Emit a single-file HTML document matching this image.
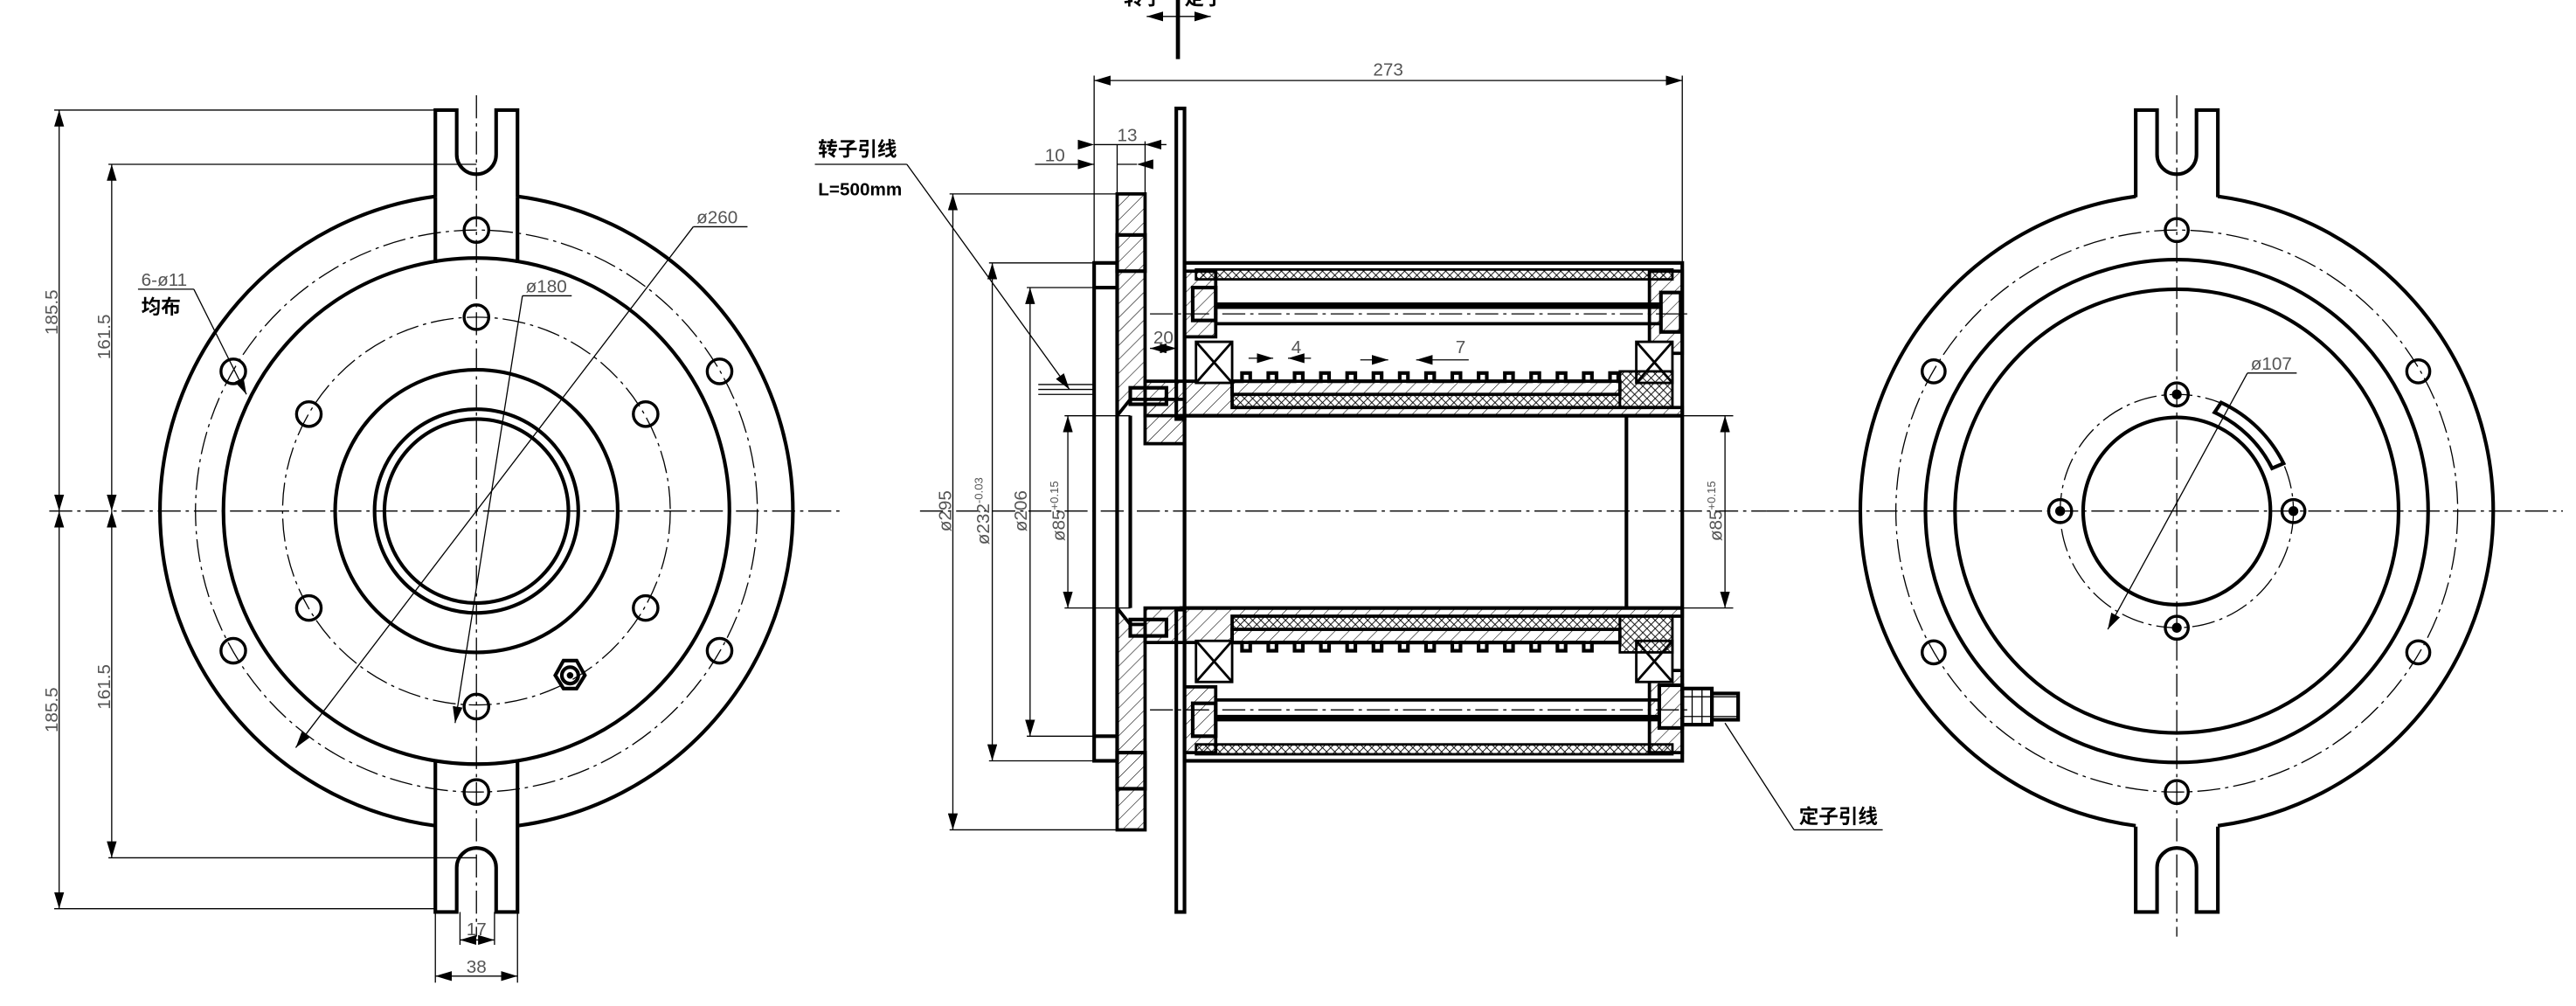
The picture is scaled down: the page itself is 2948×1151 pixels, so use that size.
<!DOCTYPE html>
<html><head><meta charset="utf-8"><style>
html,body{margin:0;padding:0;background:#fff;}
svg{display:block}
text{font-family:"Liberation Sans","Noto Sans CJK SC",sans-serif;fill:#000}
.k{fill:none;stroke:#000;stroke-width:2.2}
.t{fill:none;stroke:#000;stroke-width:0.7}
.c{fill:none;stroke:#000;stroke-width:0.7;stroke-dasharray:14 3 2 3}
.h{fill:url(#hat);stroke:#000;stroke-width:2}
.x{fill:url(#xh);stroke:#000;stroke-width:1.5}
.dim{font-size:11px;fill:#555}
</style></head><body>
<svg width="2948" height="1151" viewBox="0 0 1568 612.2" preserveAspectRatio="none" xmlns="http://www.w3.org/2000/svg">
<defs>
<pattern id="hat" width="6" height="6" patternUnits="userSpaceOnUse" patternTransform="rotate(45)"><line x1="0" y1="0" x2="0" y2="6" stroke="#000" stroke-width="0.6"/></pattern>
<pattern id="xh" width="5" height="5" patternUnits="userSpaceOnUse"><path d="M0 0L5 5M5 0L0 5" stroke="#000" stroke-width="0.5"/></pattern>
<marker id="a" markerWidth="10" markerHeight="6" refX="10" refY="3" orient="auto" markerUnits="userSpaceOnUse"><path d="M0 0L10 3L0 6z"/></marker>
<marker id="b" markerWidth="10" markerHeight="6" refX="0" refY="3" orient="auto" markerUnits="userSpaceOnUse"><path d="M10 0L0 3L10 6z"/></marker>
</defs>
<rect width="1568" height="612.2" fill="#fff"/>

<!-- LEFT VIEW -->
<g>
<path class="k" d="M265 119.5 A193.2 193.2 0 0 0 265 502.5" />
<path class="k" d="M315 119.5 A193.2 193.2 0 0 1 315 502.5" />
<path class="k" d="M265 120 V67 H278 V94 A12 12 0 0 0 302 94 V67 H315 V120"/>
<path class="k" d="M265 160 V120 M315 160 V120"/>
<path class="k" d="M265 462 V555 H278 V528 A12 12 0 0 1 302 528 V555 H315 V462"/>
<circle class="k" cx="290" cy="311" r="154"/>
<circle class="k" cx="290" cy="311" r="86"/>
<circle class="k" cx="290" cy="311" r="62"/>
<circle class="k" cx="290" cy="311" r="56"/>
<circle class="c" cx="290" cy="311" r="171"/>
<circle class="c" cx="290" cy="311" r="118"/>
<g class="k" style="stroke-width:1.8">
<circle cx="290" cy="140" r="7.5"/><circle cx="142" cy="226" r="7.5"/><circle cx="438" cy="226" r="7.5"/>
<circle cx="142" cy="396" r="7.5"/><circle cx="438" cy="396" r="7.5"/><circle cx="290" cy="482" r="7.5"/>
<circle cx="290" cy="193" r="7.5"/><circle cx="188" cy="252" r="7.5"/><circle cx="393" cy="252" r="7.5"/>
<circle cx="188" cy="370" r="7.5"/><circle cx="393" cy="370" r="7.5"/><circle cx="290" cy="430" r="7.5"/>
</g>
<polygon class="k" points="343,402 351,402 356,411 351,419 343,419 338,411"/>
<circle class="k" cx="347" cy="411" r="5"/><circle cx="347" cy="411" r="2" fill="#000"/>
<line class="c" x1="30" y1="311" x2="512" y2="311"/>
<line class="c" x1="290" y1="58" x2="290" y2="570"/>
<line class="t" x1="33" y1="67" x2="265" y2="67"/><line class="t" x1="33" y1="553" x2="265" y2="553"/>
<line class="t" x1="66" y1="100" x2="290" y2="100"/><line class="t" x1="66" y1="522" x2="290" y2="522"/>
<line class="t" x1="36" y1="67" x2="36" y2="311" marker-start="url(#b)" marker-end="url(#a)"/>
<line class="t" x1="36" y1="311" x2="36" y2="553" marker-start="url(#b)" marker-end="url(#a)"/>
<line class="t" x1="68" y1="100" x2="68" y2="311" marker-start="url(#b)" marker-end="url(#a)"/>
<line class="t" x1="68" y1="311" x2="68" y2="522" marker-start="url(#b)" marker-end="url(#a)"/>
<text class="dim" transform="translate(35,190) rotate(-90)" text-anchor="middle">185.5</text>
<text class="dim" transform="translate(35,432) rotate(-90)" text-anchor="middle">185.5</text>
<text class="dim" transform="translate(67,205) rotate(-90)" text-anchor="middle">161.5</text>
<text class="dim" transform="translate(67,418) rotate(-90)" text-anchor="middle">161.5</text>
<line class="t" x1="265" y1="555" x2="265" y2="598"/><line class="t" x1="315" y1="555" x2="315" y2="598"/>
<line class="t" x1="280" y1="555" x2="280" y2="575"/><line class="t" x1="301" y1="555" x2="301" y2="575"/>
<line class="t" x1="280" y1="572" x2="301" y2="572" marker-start="url(#b)" marker-end="url(#a)"/>
<line class="t" x1="265" y1="594" x2="315" y2="594" marker-start="url(#b)" marker-end="url(#a)"/>
<text class="dim" x="290" y="569" text-anchor="middle">17</text>
<text class="dim" x="290" y="592" text-anchor="middle">38</text>
<line class="t" x1="84" y1="176" x2="118" y2="176"/><line class="t" x1="118" y1="176" x2="150" y2="240" marker-end="url(#a)"/>
<text class="dim" x="86" y="174">6-ø11</text>
<text x="86" y="191" font-size="12" font-weight="bold">均布</text>
<line class="t" x1="422" y1="138" x2="455" y2="138"/><line class="t" x1="422" y1="138" x2="180" y2="455" marker-end="url(#a)"/>
<text class="dim" x="424" y="136">ø260</text>
<line class="t" x1="318" y1="180" x2="348" y2="180"/><line class="t" x1="318" y1="180" x2="277" y2="440" marker-end="url(#a)"/>
<text class="dim" x="320" y="178">ø180</text>
</g>

<!-- MIDDLE SECTION -->
<g>
<line x1="717" y1="0" x2="717" y2="36" stroke="#000" stroke-width="2.5"/>
<line class="t" x1="698" y1="10" x2="737" y2="10" marker-start="url(#b)" marker-end="url(#a)"/>
<text x="684" y="3" font-size="12" font-weight="bold">转子</text><text x="721" y="3" font-size="12" font-weight="bold">定子</text>
<line class="t" x1="666" y1="46" x2="666" y2="160"/><line class="t" x1="1024" y1="46" x2="1024" y2="160"/>
<line class="t" x1="666" y1="49" x2="1024" y2="49" marker-start="url(#b)" marker-end="url(#a)"/>
<text class="dim" x="845" y="46" text-anchor="middle">273</text>
<line class="t" x1="630" y1="100" x2="666" y2="100" marker-end="url(#a)"/><line class="t" x1="680" y1="100" x2="692" y2="100" marker-end="url(#b)"/>
<line class="t" x1="666" y1="88" x2="697" y2="88" marker-end="url(#b)" marker-start="url(#a)"/>
<line class="t" x1="680" y1="88" x2="680" y2="118"/><line class="t" x1="697" y1="86" x2="697" y2="118"/>
<line class="t" x1="697" y1="88" x2="710" y2="88"/>
<text class="dim" x="636" y="98">10</text><text class="dim" x="680" y="86">13</text>
<path class="h" d="M680 118 H697 V243 L688 243 L680 253 Z"/>
<rect class="k" x="680" y="143" width="17" height="22" fill="#fff"/>
<path class="h" d="M680 505 H697 V380 L688 380 L680 370 Z"/>
<rect class="k" x="680" y="458" width="17" height="22" fill="#fff"/>
<rect class="k" x="666" y="160" width="14" height="303" fill="#fff"/>
<line class="k" x1="666" y1="175" x2="680" y2="175"/><line class="k" x1="666" y1="448" x2="680" y2="448"/>
<line class="k" x1="688" y1="253" x2="688" y2="370"/>
<line class="k" x1="680" y1="253" x2="680" y2="370"/>
<rect class="k" x="716" y="66" width="5" height="189" fill="#fff"/>
<rect class="k" x="716" y="371" width="5" height="184" fill="#fff"/>
<path class="h" d="M697 243 H721 V270 H697 Z"/>
<path class="h" d="M697 253 H1024 V248 H750 V232 H697 Z"/>
<path class="h" d="M697 370 H1024 V375 H750 V391 H697 Z"/>
<rect x="688" y="236" width="22" height="10" class="k" fill="#fff"/>
<rect x="688" y="377" width="22" height="10" class="k" fill="#fff"/>
<rect class="k" x="721" y="160" width="303" height="303" fill="none"/>
<rect class="x" x="728" y="164" width="290" height="6"/>
<rect class="x" x="728" y="453" width="290" height="6"/>
<path class="h" d="M721 165 H740 V205 H721 Z"/><path class="h" d="M1004 165 H1024 V215 H1004 Z"/>
<path class="h" d="M721 418 H740 V458 H721 Z"/><path class="h" d="M1004 408 H1024 V458 H1004 Z"/>
<rect class="k" x="726" y="175" width="14" height="20" fill="#fff"/><rect class="k" x="1011" y="178" width="12" height="24" fill="#fff"/>
<rect class="k" x="726" y="428" width="14" height="20" fill="#fff"/>
<line x1="740" y1="186" x2="1010" y2="186" stroke="#000" stroke-width="4"/>
<line x1="740" y1="197" x2="1010" y2="197" stroke="#000" stroke-width="2"/>
<line class="c" x1="700" y1="191" x2="1030" y2="191"/>
<line x1="740" y1="437" x2="1010" y2="437" stroke="#000" stroke-width="4"/>
<line x1="740" y1="426" x2="1010" y2="426" stroke="#000" stroke-width="2"/>
<line class="c" x1="700" y1="432" x2="1030" y2="432"/>
<g class="k" style="stroke-width:1.5"><rect x="728" y="208" width="22" height="25" fill="#fff"/><path d="M728 208 L750 233 M750 208 L728 233"/>
<rect x="996" y="208" width="22" height="25" fill="#fff"/><path d="M996 208 L1018 233 M1018 208 L996 233"/>
<rect x="728" y="390" width="22" height="25" fill="#fff"/><path d="M728 390 L750 415 M750 390 L728 415"/>
<rect x="996" y="390" width="22" height="25" fill="#fff"/><path d="M996 390 L1018 415 M1018 390 L996 415"/></g>
<rect class="h" x="750" y="232" width="236" height="8"/>
<rect class="x" x="750" y="240" width="236" height="8"/>
<rect class="x" x="986" y="226" width="32" height="22"/>
<path class="k" d="M750 232 h6 v-5 h5 v5 h11 v-5 h5 v5 h11 v-5 h5 v5 h11 v-5 h5 v5 h11 v-5 h5 v5 h11 v-5 h5 v5 h11 v-5 h5 v5 h11 v-5 h5 v5 h11 v-5 h5 v5 h11 v-5 h5 v5 h11 v-5 h5 v5 h11 v-5 h5 v5 h11 v-5 h5 v5 h11 v-5 h5 v5 h11 v-5 h5 v5 H986"/>
<rect class="h" x="750" y="383" width="236" height="8"/>
<rect class="x" x="750" y="375" width="236" height="8"/>
<rect class="x" x="986" y="375" width="32" height="22"/>
<path class="k" d="M750 391 h6 v5 h5 v-5 h11 v5 h5 v-5 h11 v5 h5 v-5 h11 v5 h5 v-5 h11 v5 h5 v-5 h11 v5 h5 v-5 h11 v5 h5 v-5 h11 v5 h5 v-5 h11 v5 h5 v-5 h11 v5 h5 v-5 h11 v5 h5 v-5 h11 v5 h5 v-5 h11 v5 h5 v-5 h11 v5 h5 v-5 H986"/>
<path class="k" d="M718 253 H1024 M718 370 H1024 M990 253 V370 M721 253 V370"/>
<line class="c" x1="560" y1="311" x2="1075" y2="311"/>
<line class="t" x1="700" y1="212" x2="716" y2="212" marker-start="url(#b)" marker-end="url(#a)"/><text class="dim" x="702" y="209">20</text>
<line class="t" x1="760" y1="218" x2="775" y2="218" marker-end="url(#a)"/><line class="t" x1="784" y1="218" x2="798" y2="218" marker-start="url(#b)"/><text class="dim" x="786" y="215">4</text>
<line class="t" x1="828" y1="219" x2="845" y2="219" marker-end="url(#a)"/><line class="t" x1="862" y1="219" x2="894" y2="219" marker-start="url(#b)"/><text class="dim" x="886" y="215">7</text>
<g class="t">
<line x1="578" y1="118" x2="680" y2="118"/><line x1="578" y1="505" x2="680" y2="505"/>
<line x1="602" y1="160" x2="666" y2="160"/><line x1="602" y1="463" x2="666" y2="463"/>
<line x1="625" y1="175" x2="666" y2="175"/><line x1="625" y1="448" x2="666" y2="448"/>
<line x1="648" y1="253" x2="688" y2="253"/><line x1="648" y1="370" x2="688" y2="370"/>
<line x1="1024" y1="253" x2="1055" y2="253"/><line x1="1024" y1="370" x2="1055" y2="370"/>
</g>
<line class="t" x1="580" y1="118" x2="580" y2="505" marker-start="url(#b)" marker-end="url(#a)"/>
<line class="t" x1="604" y1="160" x2="604" y2="463" marker-start="url(#b)" marker-end="url(#a)"/>
<line class="t" x1="627" y1="175" x2="627" y2="448" marker-start="url(#b)" marker-end="url(#a)"/>
<line class="t" x1="650" y1="253" x2="650" y2="370" marker-start="url(#b)" marker-end="url(#a)"/>
<line class="t" x1="1050" y1="253" x2="1050" y2="370" marker-start="url(#b)" marker-end="url(#a)"/>
<text class="dim" transform="translate(579,311) rotate(-90)" text-anchor="middle">ø295</text>
<text class="dim" transform="translate(602,311) rotate(-90)" text-anchor="middle">ø232<tspan font-size="7" dy="-4">-0.03</tspan></text>
<text class="dim" transform="translate(625,311) rotate(-90)" text-anchor="middle">ø206</text>
<text class="dim" transform="translate(648,311) rotate(-90)" text-anchor="middle">ø85<tspan font-size="7" dy="-4">+0.15</tspan></text>
<text class="dim" transform="translate(1048,311) rotate(-90)" text-anchor="middle">ø85<tspan font-size="7" dy="-4">+0.15</tspan></text>
<text x="498" y="95" font-size="12" font-weight="bold">转子引线</text>
<line class="t" x1="496" y1="100" x2="552" y2="100"/>
<text x="498" y="119" font-size="11" font-weight="bold">L=500mm</text>
<line class="t" x1="552" y1="100" x2="651" y2="237" marker-end="url(#a)"/>
<g class="t"><line x1="632" y1="234" x2="666" y2="234"/><line x1="632" y1="237" x2="666" y2="237"/><line x1="632" y1="240" x2="666" y2="240"/></g>
<rect class="k" x="1010" y="417" width="14" height="26" fill="#fff"/>
<rect class="k" x="1024" y="419" width="18" height="22" fill="#fff"/>
<rect class="k" x="1042" y="422" width="16" height="16" fill="#fff"/>
<path class="t" d="M1024 424 H1058 M1024 436 H1058 M1030 419 V441 M1036 419 V441"/>
<line class="t" x1="1050" y1="440" x2="1092" y2="505"/><line class="t" x1="1092" y1="505" x2="1146" y2="505"/>
<text x="1095" y="501" font-size="12" font-weight="bold">定子引线</text>
</g>

<!-- RIGHT VIEW -->
<g>
<path class="k" d="M1300 119.5 A193.2 193.2 0 0 0 1300 502.5"/>
<path class="k" d="M1350 119.5 A193.2 193.2 0 0 1 1350 502.5"/>
<path class="k" d="M1300 120 V67 H1313 V94 A12 12 0 0 0 1337 94 V67 H1350 V120"/>
<path class="k" d="M1300 503 V555 H1313 V528 A12 12 0 0 1 1337 528 V555 H1350 V503"/>
<circle class="k" cx="1325" cy="311" r="153"/>
<circle class="k" cx="1325" cy="311" r="135"/>
<circle class="k" cx="1325" cy="311" r="57"/>
<circle class="c" cx="1325" cy="311" r="171"/>
<circle class="c" cx="1325" cy="311" r="71"/>
<g class="k" style="stroke-width:1.8">
<circle cx="1325" cy="140" r="7"/><circle cx="1177" cy="226" r="7"/><circle cx="1472" cy="226" r="7"/>
<circle cx="1177" cy="397" r="7"/><circle cx="1472" cy="397" r="7"/><circle cx="1325" cy="482" r="7"/>
<circle cx="1325" cy="240" r="7"/><circle cx="1254" cy="311" r="7"/><circle cx="1396" cy="311" r="7"/><circle cx="1325" cy="382" r="7"/>
</g>
<g fill="#000"><circle cx="1325" cy="240" r="3"/><circle cx="1254" cy="311" r="3"/><circle cx="1396" cy="311" r="3"/><circle cx="1325" cy="382" r="3"/></g>
<path class="k" d="M1352 245 A80 80 0 0 1 1390 282 L1383 285 A73 73 0 0 0 1348 251 Z" fill="#fff"/>
<line class="c" x1="1075" y1="311" x2="1560" y2="311"/>
<line class="c" x1="1325" y1="58" x2="1325" y2="570"/>
<line class="t" x1="1368" y1="227" x2="1398" y2="227"/><line class="t" x1="1368" y1="227" x2="1283" y2="383" marker-end="url(#a)"/>
<text class="dim" x="1370" y="225">ø107</text>
</g>
</svg>
</body></html>
